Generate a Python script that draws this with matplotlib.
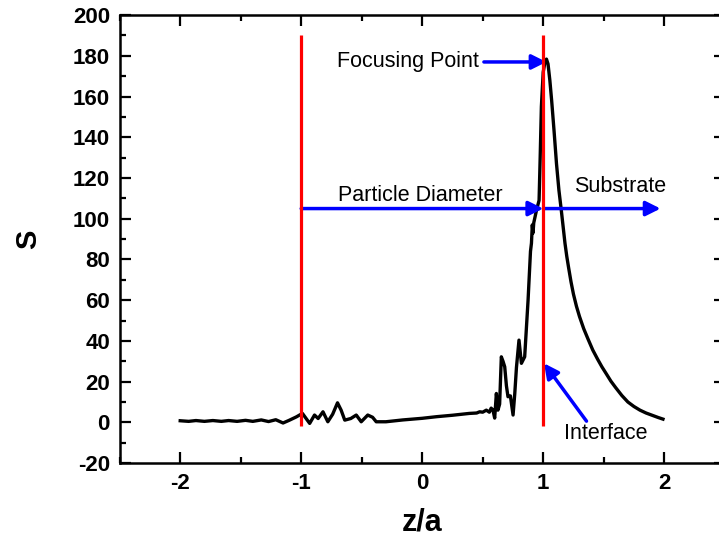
import matplotlib
matplotlib.use('Agg')
import matplotlib.pyplot as plt
from matplotlib.ticker import MultipleLocator

plt.rcParams['font.family'] = ['Liberation Sans', 'DejaVu Sans']
plt.rcParams['axes.unicode_minus'] = False

# S along z/a
z = [-2.0, -1.93, -1.87, -1.8, -1.73, -1.66, -1.6, -1.53, -1.46, -1.4,
     -1.33, -1.27, -1.21, -1.15, -1.1, -1.04, -0.99, -0.93, -0.89, -0.86,
     -0.82, -0.78, -0.74, -0.70, -0.67, -0.64, -0.59, -0.545, -0.504, -0.45,
     -0.41, -0.38, -0.30, -0.16, 0.0, 0.12, 0.25, 0.39, 0.45, 0.475,
     0.50, 0.53, 0.555, 0.57, 0.585, 0.599, 0.613, 0.626, 0.64, 0.654,
     0.668, 0.682, 0.696, 0.709, 0.729, 0.751, 0.765, 0.779, 0.80, 0.82,
     0.847, 0.875, 0.895, 0.903, 0.91, 0.916, 0.922, 0.944, 0.966, 0.975,
     0.985, 1.0, 1.015, 1.027, 1.04, 1.055, 1.07, 1.09, 1.11, 1.13,
     1.15, 1.165, 1.18, 1.195, 1.21, 1.23, 1.25, 1.275, 1.30, 1.335,
     1.37, 1.41, 1.45, 1.485, 1.52, 1.56, 1.60, 1.65, 1.70, 1.75,
     1.80, 1.85, 1.90, 1.95, 1.99]
s = [0.8, 0.5, 0.9, 0.5, 0.9, 0.5, 0.9, 0.5, 1.0, 0.5,
     1.2, 0.4, 1.3, -0.3, 1.0, 2.7, 4.4, -0.5, 3.6, 1.9,
     5.2, 0.3, 4.0, 9.6, 6.0, 1.1, 1.9, 3.6, 0.3, 3.6,
     2.5, 0.3, 0.3, 1.2, 2.0, 2.8, 3.5, 4.4, 4.6, 5.2,
     5.0, 6.0, 5.0, 7.0, 6.0, 2.1, 14.2, 6.0, 9.0, 32.2,
     30.0, 27.3, 18.0, 12.6, 13.0, 3.6, 14.0, 27.0, 40.4, 29.0,
     32.2, 60.0, 84.0, 88.0, 97.0, 93.0, 98.0, 104.0, 109.0, 130.0,
     155.0, 172.0, 177.0, 178.4, 176.0, 168.0, 158.0, 143.0, 127.0, 114.0,
     104.0, 96.0, 88.0, 81.5, 76.0, 69.0, 63.0, 57.0, 52.0, 46.0,
     41.0, 35.5, 31.0, 27.3, 24.0, 20.2, 17.0, 13.2, 10.0, 7.8,
     6.0, 4.6, 3.5, 2.4, 1.6]

# particle boundaries (z/a = -1 and the interface at z/a = 1)
bounds = [-1.0, 1.0]
bound_lo, bound_hi = -2.0, 190.0

fig = plt.figure(figsize=(7.19, 5.5), dpi=100)
ax = fig.add_axes([0.1665, 0.158, 0.8414, 0.8145])

ax.plot(z, s, color='black', lw=2.4, zorder=3, solid_joinstyle='round')

arrow = dict(arrowstyle='-|>', color='blue', lw=2.5, mutation_scale=22,
             shrinkA=0, shrinkB=0)
ax.annotate('', xy=(1.0, 105), xytext=(-1.0, 105), arrowprops=arrow, zorder=4)
ax.annotate('', xy=(1.97, 105), xytext=(1.0, 105), arrowprops=arrow, zorder=4)
ax.annotate('', xy=(1.027, 177), xytext=(0.51, 177), arrowprops=arrow, zorder=4)
ax.annotate('', xy=(1.007, 29), xytext=(1.358, 0.6), arrowprops=arrow, zorder=4)

ax.vlines(bounds, bound_lo, bound_hi, colors='red', lw=2.3, zorder=5)

ax.text(0.465, 177, 'Focusing Point', ha='right', va='center', fontsize=15.5)
ax.text(-0.013, 111.5, 'Particle Diameter', ha='center', va='center', fontsize=15.5)
ax.text(1.637, 116, 'Substrate', ha='center', va='center', fontsize=15.5)
ax.text(1.52, -5.5, 'Interface', ha='center', va='center', fontsize=15.5)

ax.set_xlim(-2.5, 2.5)
ax.set_ylim(-20, 200)
ax.xaxis.set_major_locator(MultipleLocator(1))
ax.xaxis.set_minor_locator(MultipleLocator(0.5))
ax.yaxis.set_major_locator(MultipleLocator(20))
ax.yaxis.set_minor_locator(MultipleLocator(10))
ax.tick_params(which='both', direction='in', top=True, right=True, width=1.6)
ax.tick_params(which='major', length=8, labelsize=16, pad=7)
ax.tick_params(which='minor', length=4.5)
for lab in ax.get_xticklabels() + ax.get_yticklabels():
    lab.set_fontweight('bold')
for sp in ax.spines.values():
    sp.set_linewidth(1.8)

ax.set_xlabel('z/a', fontsize=22, fontweight='bold', labelpad=10)
ax.set_ylabel('S', fontsize=21, fontweight='bold', labelpad=22)

fig.savefig('out.png', dpi=100)
